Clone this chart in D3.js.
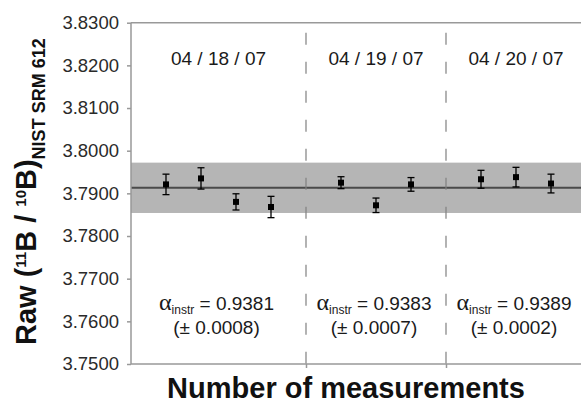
<!DOCTYPE html>
<html>
<head>
<meta charset="utf-8">
<script src="https://cdn.jsdelivr.net/npm/d3@7"></script>
<style>
  body { margin: 0; background: #fff; }
  svg { display: block; font-family: "Liberation Sans", Arial, sans-serif; }
</style>
</head>
<body>
<div id="chart"></div>
<script>
// measurement index (x), raw 11B/10B ratio and its error
var measIndex = [1, 2, 3, 4, 6, 7, 8, 10, 11, 12];
var ratio = [3.7921, 3.7935, 3.7880, 3.7868, 3.7925, 3.7872, 3.7921, 3.7933, 3.7938, 3.7923];
var ratioErr = [0.0024, 0.0025, 0.0019, 0.0025, 0.0014, 0.0017, 0.0016, 0.0021, 0.0023, 0.0022];

var meanRatio = 3.7913;
var bandLow = 3.7854;
var bandHigh = 3.7972;

var dayLabels = ["04 / 18 / 07", "04 / 19 / 07", "04 / 20 / 07"];
var dayCenters = [2.5, 7, 11];
var dividers = [5, 9];
var alphaValues = ["0.9381", "0.9383", "0.9389"];
var alphaErrors = ["0.0008", "0.0007", "0.0002"];

var yTicks = [3.75, 3.76, 3.77, 3.78, 3.79, 3.80, 3.81, 3.82, 3.83];

var width = 581, height = 404;
var plotLeft = 131, plotTop = 22.7, plotBottom = 364;

var x = d3.scaleLinear().domain([0, 13]).range([plotLeft, plotLeft + 35 * 13]);
var y = d3.scaleLinear().domain([3.75, 3.83]).range([plotBottom, plotTop]);

var svg = d3.select('#chart')
    .append('svg')
    .attr('width', width)
    .attr('height', height);

// 2 SD band and mean line
svg.append('rect')
    .attr('x', x(0))
    .attr('y', y(bandHigh))
    .attr('width', width - x(0))
    .attr('height', y(bandLow) - y(bandHigh))
    .attr('fill', '#b5b5b5');

svg.append('line')
    .attr('x1', x(0)).attr('x2', width)
    .attr('y1', y(meanRatio)).attr('y2', y(meanRatio))
    .attr('stroke', '#4a4a4a')
    .attr('stroke-width', 2);

// day dividers
svg.selectAll('line.div')
    .data(dividers)
    .enter()
    .append('line')
    .attr('class', 'div')
    .attr('x1', function (d) { return x(d); })
    .attr('x2', function (d) { return x(d); })
    .attr('y1', plotTop).attr('y2', plotBottom)
    .attr('stroke', '#808080')
    .attr('stroke-width', 1.2)
    .attr('stroke-dasharray', '12,17')
    .attr('stroke-dashoffset', 19);

// top frame line
svg.append('line')
    .attr('x1', x(0)).attr('x2', width)
    .attr('y1', plotTop).attr('y2', plotTop)
    .attr('stroke', '#999')
    .attr('stroke-width', 1.5);

// y axis
var yAxis = svg.append('g')
    .attr('transform', 'translate(' + plotLeft + ',0)')
    .call(d3.axisLeft(y).tickValues(yTicks).tickSize(4).tickPadding(8)
        .tickFormat(d3.format('.4f')));
yAxis.selectAll('path, line').attr('stroke', '#999').attr('stroke-width', 1.5);
yAxis.select('.domain').attr('d', 'M0,' + plotTop + 'V' + plotBottom);
yAxis.selectAll('text')
    .attr('fill', '#2a2a2a')
    .style('font-size', '18.5px')
    .style('font-family', '"Liberation Sans", Arial, sans-serif');

// x axis (no labels)
var xAxis = svg.append('g')
    .attr('transform', 'translate(0,' + plotBottom + ')')
    .call(d3.axisBottom(x).tickValues(dividers).tickSize(4).tickFormat(''));
xAxis.selectAll('path, line').attr('stroke', '#999').attr('stroke-width', 1.5);
xAxis.select('.domain').attr('d', 'M' + plotLeft + ',0H' + width);

// error bars
var pts = measIndex.map(function (m, i) { return { m: m, v: ratio[i], e: ratioErr[i] }; });
var g = svg.append('g').attr('stroke', '#000').attr('stroke-width', 1.3);
g.selectAll('line.v').data(pts).enter().append('line')
    .attr('x1', function (d) { return x(d.m); })
    .attr('x2', function (d) { return x(d.m); })
    .attr('y1', function (d) { return y(d.v + d.e); })
    .attr('y2', function (d) { return y(d.v - d.e); });
g.selectAll('line.t').data(pts).enter().append('line')
    .attr('x1', function (d) { return x(d.m) - 3.5; })
    .attr('x2', function (d) { return x(d.m) + 3.5; })
    .attr('y1', function (d) { return y(d.v + d.e); })
    .attr('y2', function (d) { return y(d.v + d.e); });
g.selectAll('line.b').data(pts).enter().append('line')
    .attr('x1', function (d) { return x(d.m) - 3.5; })
    .attr('x2', function (d) { return x(d.m) + 3.5; })
    .attr('y1', function (d) { return y(d.v - d.e); })
    .attr('y2', function (d) { return y(d.v - d.e); });

svg.selectAll('rect.pt').data(pts).enter().append('rect')
    .attr('x', function (d) { return x(d.m) - 3; })
    .attr('y', function (d) { return y(d.v) - 3; })
    .attr('width', 6).attr('height', 6)
    .attr('fill', '#000');

// day labels
svg.selectAll('text.day').data(dayLabels).enter().append('text')
    .attr('x', function (d, i) { return x(dayCenters[i]); })
    .attr('y', 65)
    .attr('text-anchor', 'middle')
    .style('font-size', '19px')
    .attr('fill', '#1a1a1a')
    .text(function (d) { return d; });

// alpha labels
alphaValues.forEach(function (a, i) {
  var cx = x(dayCenters[i]) - 2;
  var t = svg.append('text')
      .attr('x', cx).attr('y', 310)
      .attr('text-anchor', 'middle')
      .attr('fill', '#1a1a1a')
      .style('font-size', '19px');
  t.append('tspan').style('font-family', '"Liberation Serif", "Times New Roman", serif')
      .style('font-size', '24px').text('α');
  t.append('tspan').style('font-size', '12px').attr('dy', 4).text('instr');
  t.append('tspan').attr('dy', -4).text(' = ' + a);

  svg.append('text')
      .attr('x', cx).attr('y', 334)
      .attr('text-anchor', 'middle')
      .attr('fill', '#1a1a1a')
      .style('font-size', '19px')
      .text('(± ' + alphaErrors[i] + ')');
});

// y title
var yt = svg.append('text')
    .attr('transform', 'translate(36,345) rotate(-90)')
    .style('font-size', '29px')
    .style('font-weight', 'bold')
    .attr('fill', '#111');
yt.append('tspan').text('Raw (');
yt.append('tspan').attr('dy', -10).style('font-size', '15px').text('11');
yt.append('tspan').attr('dy', 10).text('B / ');
yt.append('tspan').attr('dy', -10).style('font-size', '15px').text('10');
yt.append('tspan').attr('dy', 10).text('B)');
yt.append('tspan').attr('dy', 9).style('font-size', '18px').text('NIST SRM 612');

// x title
svg.append('text')
    .attr('x', 346).attr('y', 398)
    .attr('text-anchor', 'middle')
    .style('font-size', '29px')
    .style('font-weight', 'bold')
    .attr('fill', '#111')
    .text('Number of measurements');
</script>
</body>
</html>
